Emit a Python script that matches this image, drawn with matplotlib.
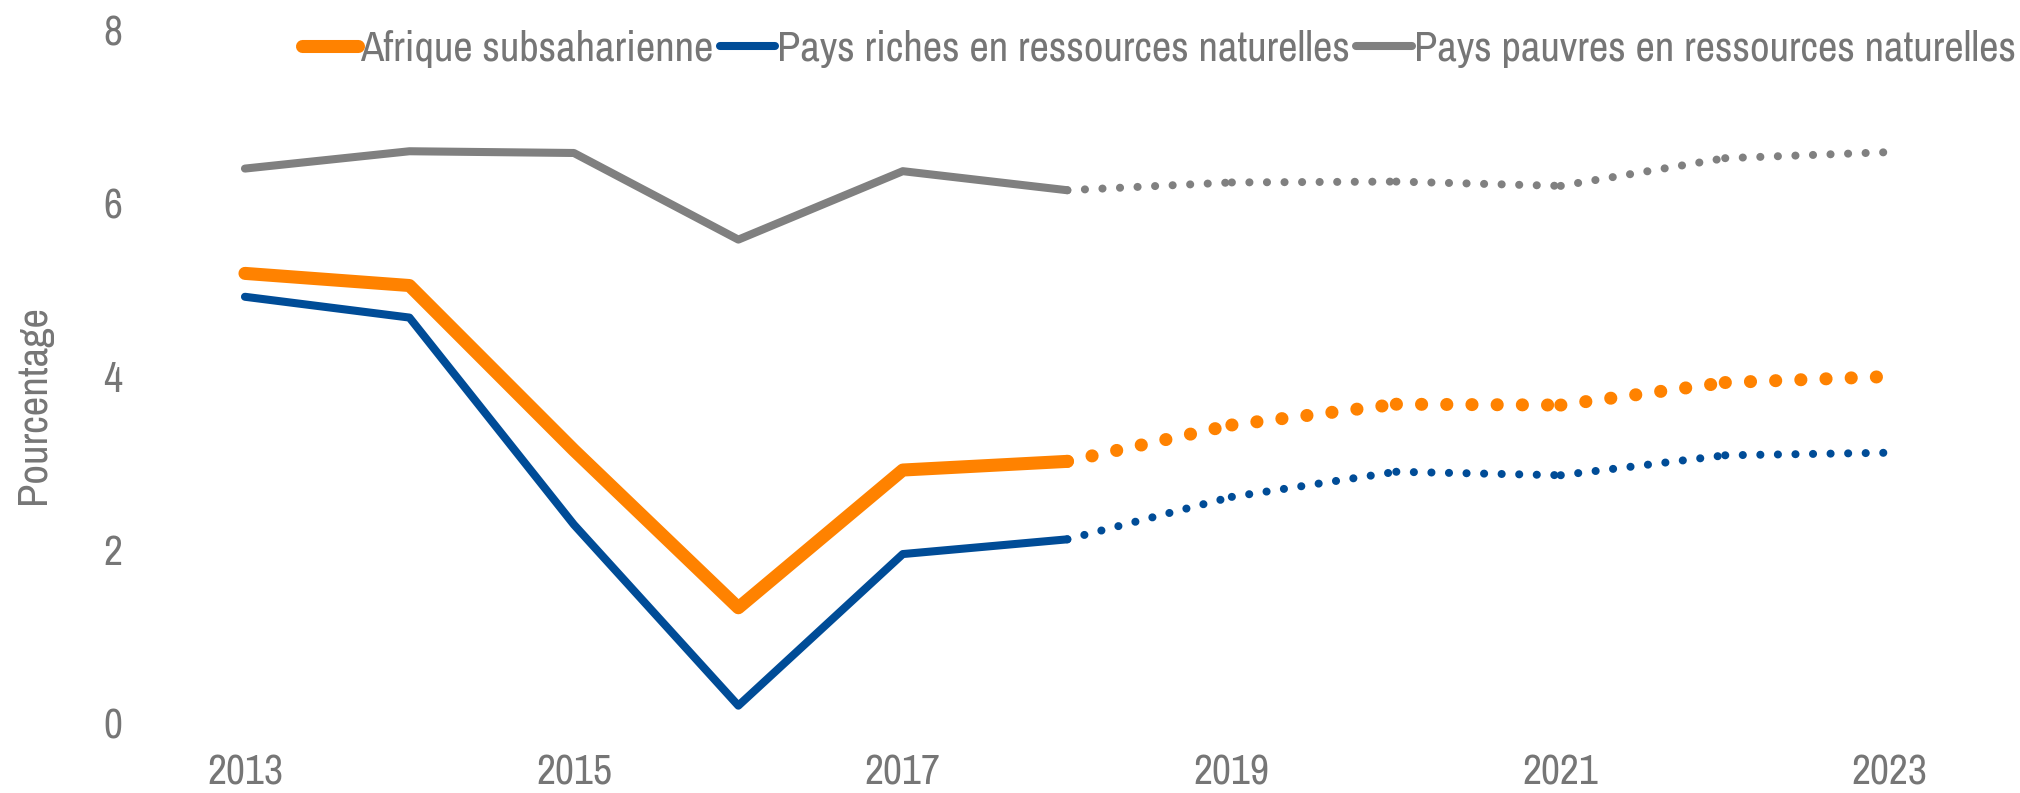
import matplotlib.pyplot as plt

# growth data (2018 onward = projections)
years = [2013, 2014, 2015, 2016, 2017, 2018, 2019, 2020, 2021, 2022, 2023]
afrique = [5.19, 5.05, 3.15, 1.33, 2.92, 3.02, 3.44, 3.68, 3.67, 3.93, 4.00]
riches = [4.92, 4.68, 2.29, 0.20, 1.95, 2.12, 2.61, 2.90, 2.86, 3.09, 3.12]
pauvres = [6.40, 6.60, 6.58, 5.58, 6.37, 6.15, 6.24, 6.25, 6.20, 6.52, 6.59]
last_actual = 2018

names = ['Afrique subsaharienne',
         'Pays riches en ressources naturelles',
         'Pays pauvres en ressources naturelles']
xticks = [2013, 2015, 2017, 2019, 2021, 2023]
yticks = [0, 2, 4, 6, 8]

txt = '#767676'
plt.rcParams['font.family'] = ['Archivo Narrow', 'Roboto Condensed', 'Liberation Sans', 'DejaVu Sans']

fig = plt.figure(figsize=(20.2, 7.93), dpi=100)
ax = fig.add_axes([0.0887, 0.0883, 0.8793, 0.8739])

series = [(afrique, '#FF8200', 9.4, 1.92),
          (riches, '#004C97', 5.8, 2.17),
          (pauvres, '#808080', 5.8, 2.17)]

handles = []
n = years.index(last_actual)
for (vals, col, lw, gap), name in zip(series, names):
    h, = ax.plot(years[:n + 1], vals[:n + 1], color=col, lw=lw,
                 solid_capstyle='round', solid_joinstyle='round', label=name)
    handles.append(h)
    # each projected segment dotted on its own, like the original
    for i in range(n, len(years) - 1):
        ax.plot(years[i:i + 2], vals[i:i + 2], color=col, lw=lw,
                linestyle=(gap, (0.01, gap)), dash_capstyle='round')

ax.set_xlim(2012.6, 2023.4)
ax.set_ylim(0, 8)
ax.set_xticks(xticks)
ax.set_yticks(yticks)
ax.tick_params(length=0, labelsize=30, labelcolor=txt)
ax.tick_params(axis='x', pad=22)
ax.tick_params(axis='y', pad=41)
for s in ax.spines.values():
    s.set_visible(False)
ax.set_ylabel('Pourcentage', fontsize=30.8, color=txt)
ax.yaxis.set_label_coords(-0.0715, 0.46)

leg = fig.legend(handles=handles, ncol=3, loc='center right',
                 bbox_to_anchor=(0.998, 0.938), frameon=False, fontsize=30.7,
                 handlelength=1.3, handletextpad=0.05, columnspacing=0.15,
                 borderpad=0, borderaxespad=0)
for t in leg.get_texts():
    t.set_color(txt)

fig.savefig('out.png', dpi=100)
